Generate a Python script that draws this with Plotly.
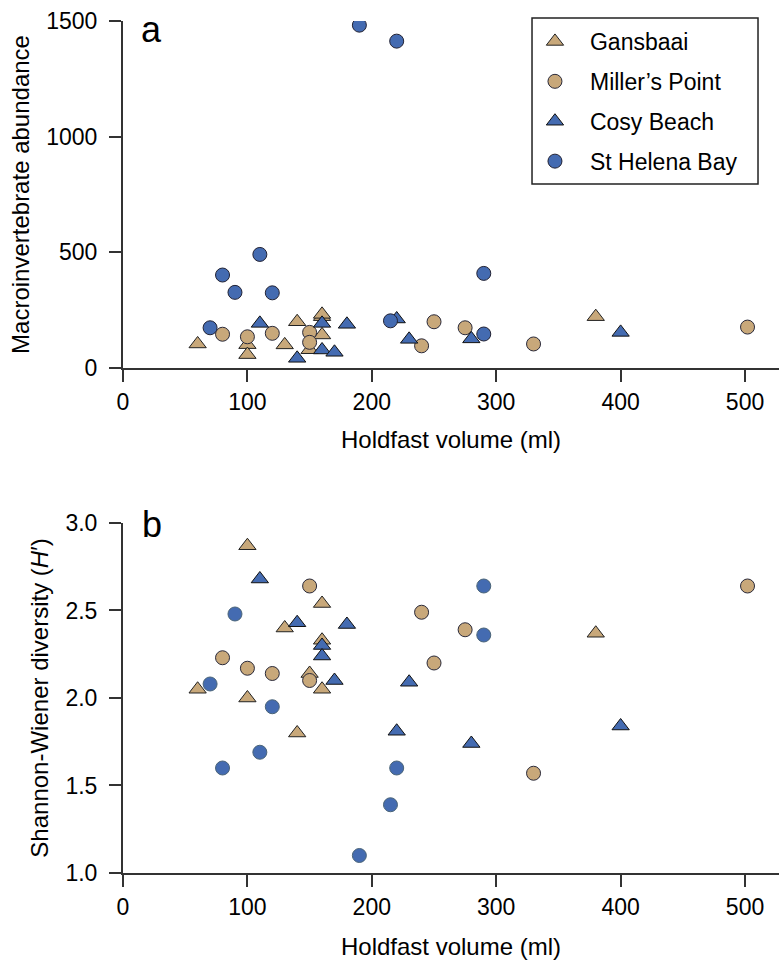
import plotly.graph_objects as go

# ---- data ----
sites = ["Gansbaai", "Miller’s Point", "Cosy Beach", "St Helena Bay"]

gans_x = [60, 100, 100, 130, 140, 150, 160, 160, 160, 380]
gans_abund = [104, 101, 58, 100, 200, 79, 222, 232, 143, 222]
gans_div = [2.05, 2.87, 2.00, 2.40, 1.80, 2.14, 2.54, 2.33, 2.05, 2.37]

mill_x = [80, 100, 120, 150, 150, 240, 250, 275, 330, 502]
mill_abund = [146, 135, 150, 154, 111, 96, 200, 174, 104, 177]
mill_div = [2.23, 2.17, 2.14, 2.64, 2.10, 2.49, 2.20, 2.39, 1.57, 2.64]

cosy_x = [110, 140, 160, 160, 170, 180, 220, 230, 280, 400]
cosy_abund = [193, 42, 193, 78, 68, 189, 212, 124, 126, 154]
cosy_div = [2.68, 2.43, 2.30, 2.24, 2.10, 2.42, 1.81, 2.09, 1.74, 1.84]

sthb_x = [70, 80, 90, 110, 120, 190, 215, 220, 290, 290]
sthb_abund = [174, 402, 327, 491, 325, 1482, 204, 1413, 409, 147]
sthb_div = [2.08, 1.60, 2.48, 1.69, 1.95, 1.10, 1.39, 1.60, 2.64, 2.36]

x_ticks = [0, 100, 200, 300, 400, 500]
abund_ticks = [0, 500, 1000, 1500]
div_ticks = [1.0, 1.5, 2.0, 2.5, 3.0]

TAN = "#C8A87A"
BLUE = "#446BB1"
FONT = "Liberation Sans, Arial, sans-serif"

series = [
    (sites[0], gans_x, gans_abund, gans_div, "triangle-up", TAN, "#222222", 15),
    (sites[1], mill_x, mill_abund, mill_div, "circle", TAN, "#2a2a3a", 14),
    (sites[2], cosy_x, cosy_abund, cosy_div, "triangle-up", BLUE, "#111111", 15),
    (sites[3], sthb_x, sthb_abund, sthb_div, "circle", BLUE, "#222233", 14),
]

fig = go.Figure()
for i, (name, xs, ya, yb, sym, col, lc, sz) in enumerate(series):
    fig.add_trace(go.Scatter(
        x=xs, y=ya, mode="markers", name=name, legendgroup=f"g{i}",
        marker=dict(symbol=sym, size=sz, color=col, line=dict(color=lc, width=1)),
        xaxis="x", yaxis="y", showlegend=True))
    fig.add_trace(go.Scatter(
        x=xs, y=yb, mode="markers", name=name, legendgroup=f"g{i}",
        marker=dict(symbol=sym, size=sz, color=col,
                    line=dict(color=("#4a6478" if name == sites[3] else lc), width=1)),
        xaxis="x2", yaxis="y2", showlegend=False))

axis_common = dict(
    showline=True, linecolor="#333333", linewidth=2,
    ticks="outside", ticklen=12, tickwidth=1.5, tickcolor="#333333",
    showgrid=False, zeroline=False, automargin=False,
    tickfont=dict(family=FONT, size=23, color="black"),
)

fig.update_layout(
    width=779, height=962,
    margin=dict(l=123, r=0, t=21, b=89, autoexpand=False),
    paper_bgcolor="white", plot_bgcolor="white",
    font=dict(family=FONT, color="black"),
    xaxis=dict(domain=[0, 1], range=[0, 527.3], tickvals=x_ticks, anchor="y",
               title=dict(text="Holdfast volume (ml)", font=dict(size=24, family=FONT), standoff=18),
               **axis_common),
    yaxis=dict(domain=[0.5927, 1], range=[0, 1500], tickvals=abund_ticks, anchor="x",
               ticklabelstandoff=7,
               title=dict(text="Macroinvertebrate abundance", font=dict(size=24, family=FONT), standoff=10),
               **axis_common),
    xaxis2=dict(domain=[0, 1], range=[0, 527.3], tickvals=x_ticks, anchor="y2",
                title=dict(text="Holdfast volume (ml)", font=dict(size=24, family=FONT), standoff=20),
                **axis_common),
    yaxis2=dict(domain=[0, 0.4108], range=[1.0, 3.0], tickvals=div_ticks, anchor="x2",
                tickformat=".1f", ticklabelstandoff=7,
                title=dict(text="Shannon-Wiener diversity (<i>H</i>′)", font=dict(size=24, family=FONT), standoff=10),
                **axis_common),
    legend=dict(
        x=0.628, y=1.0012, xanchor="left", yanchor="top",
        borderwidth=0, bgcolor="rgba(0,0,0,0)",
        font=dict(family=FONT, size=23, color="black"),
        tracegroupgap=7, itemwidth=60, indentation=-15,
    ),
    shapes=[
        dict(type="rect", xref="paper", yref="paper",
             x0=0.6235, x1=0.968, y0=0.8087, y1=1.0035,
             line=dict(color="#222222", width=1.5), fillcolor="rgba(0,0,0,0)"),
    ],
    annotations=[
        dict(text="a", x=0.0442, y=0.9906, xref="paper", yref="paper",
             showarrow=False, xanchor="center", yanchor="middle",
             font=dict(family=FONT, size=36, color="black")),
        dict(text="b", x=0.0442, y=0.4096, xref="paper", yref="paper",
             showarrow=False, xanchor="center", yanchor="middle",
             font=dict(family=FONT, size=36, color="black")),
    ],
)

fig.write_html("out.html", config={"displayModeBar": False},
               post_script="document.body.style.margin='0';")
